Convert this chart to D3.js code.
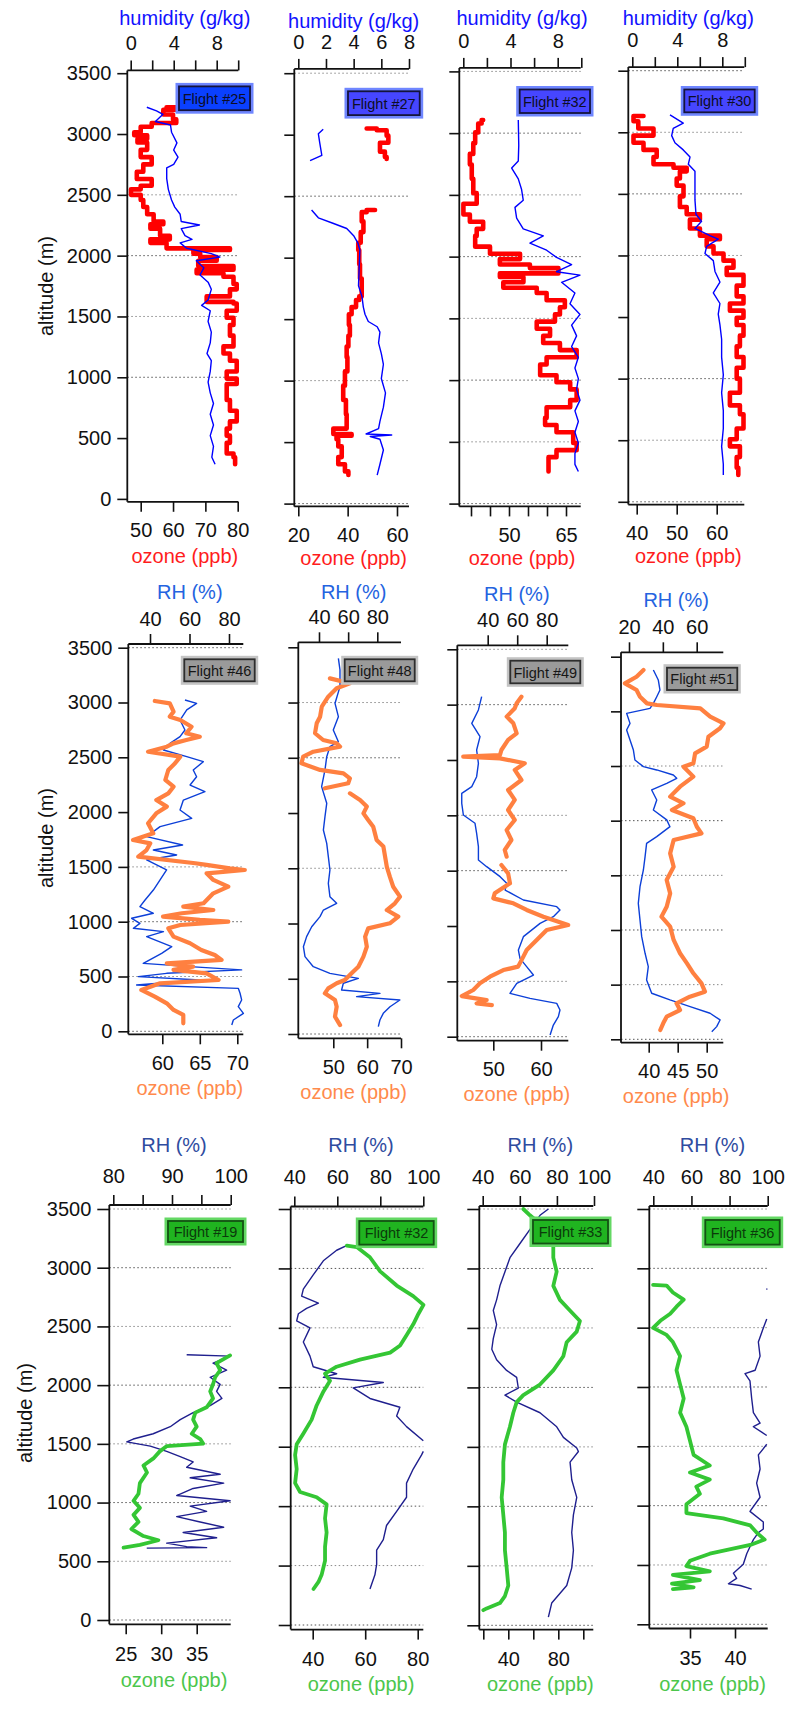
<!DOCTYPE html>
<html><head><meta charset="utf-8">
<script src="https://cdn.jsdelivr.net/npm/d3@7"></script>
<style>body{margin:0;background:#fff}svg{display:block}</style>
</head><body>
<script>
// ---------------- DATA: [altitude (m), value] ----------------
const altitudeTicks = [0,500,1000,1500,2000,2500,3000,3500];

const f25Ozone = [[3220,58],[3200,61],[3160,57],[3120,60],[3090,61],[3060,53.4],[3015,50],[2990,48],[2960,52],[2930,49],[2870,52],[2810,50],[2750,53.4],[2690,50.8],[2630,48.8],[2575,53.4],[2545,50],[2500,47],[2457,50],[2400,50.8],[2340,52],[2280,54],[2258,57],[2222,53],[2164,56],[2134,59],[2105,53],[2060,58],[2046,77.6],[2017,66.3],[1988,68.4],[1958,73.5],[1914,67.8],[1885,78.7],[1855,67.3],[1826,75.6],[1767,78.7],[1723,79.7],[1665,77.6],[1620,70.4],[1606,78.7],[1547,79.7],[1489,76.6],[1430,78.7],[1342,77.6],[1254,78.7],[1195,75.6],[1136,77.6],[1048,79.7],[989,76.6],[945,79.7],[901,76.6],[813,76.6],[725,77.6],[637,79.7],[578,77.6],[520,76.6],[461,77.6],[373,76.6],[343,78.7],[285,79.2]];
const f25Humidity = [[3220,1.5],[3191,2.4],[3162,3.0],[3103,2.3],[3074,3.7],[3015,3.8],[2927,4.3],[2868,4.0],[2810,4.4],[2751,4.0],[2722,3.35],[2634,3.35],[2545,3.5],[2457,3.8],[2399,4.1],[2340,4.6],[2281,4.7],[2252,6.4],[2222,4.7],[2164,5.05],[2134,5.7],[2105,4.6],[2061,5.2],[2017,7.5],[1988,8.3],[1958,6.1],[1900,6.8],[1841,6.45],[1782,7.2],[1723,7.5],[1635,7.2],[1591,6.6],[1547,7.4],[1459,7.2],[1371,7.5],[1283,7.4],[1195,7.1],[1136,7.5],[1048,7.4],[960,7.2],[872,7.4],[784,7.7],[696,7.4],[608,7.7],[520,7.4],[432,7.7],[343,7.55],[285,7.85]];

const f27Ozone = [[3050,47.7],[3036,51.8],[2992,55.8],[2934,56.5],[2905,53.1],[2862,53.1],[2818,55.1],[2803,55.8],[2600,null],[2388,51.1],[2370,47.7],[2295,45.7],[2208,46.4],[2121,45.3],[2062,44.3],[1946,44.7],[1830,45],[1743,45.7],[1685,45.7],[1656,44.7],[1598,43.4],[1540,41.6],[1452,40.5],[1365,40.9],[1278,40.3],[1191,39.6],[1075,39.9],[959,38.9],[842,38.2],[726,39.3],[610,39.6],[566,34.2],[552,41.6],[523,35.5],[465,36.2],[378,37.6],[320,36.2],[262,38.9],[232,40.3]];
const f27Humidity = [[3044,1.8],[3007,1.45],[2934,1.55],[2832,1.7],[2789,0.85],[2600,null],[2388,0.96],[2324,1.45],[2280,2.5],[2237,3.5],[2179,4.0],[2121,4.3],[2062,4.45],[1917,4.4],[1772,4.35],[1685,4.6],[1598,4.7],[1540,4.82],[1481,5.06],[1438,5.7],[1394,5.9],[1307,5.8],[1220,6.0],[1133,6.15],[1017,6.0],[900,6.3],[784,6.15],[668,5.9],[610,5.8],[566,4.9],[558,6.75],[546,5.2],[523,5.9],[436,6.15],[320,5.9],[232,5.7]];

const f32Ozone = [[3107,43.2],[3078,42.8],[3006,41.9],[2919,41.1],[2832,40.6],[2746,39.7],[2630,40.2],[2514,40.6],[2428,41.5],[2341,38.0],[2283,39.7],[2225,43.2],[2168,41.5],[2081,41.1],[2023,45.0],[1980,52.9],[1936,47.6],[1907,55.5],[1864,63.0],[1835,47.6],[1792,53.8],[1748,48.5],[1705,57.3],[1647,59.9],[1590,64.7],[1532,63.4],[1474,62.1],[1416,57.3],[1358,60.8],[1301,59.0],[1243,63.4],[1185,67.8],[1127,59.9],[1040,58.2],[983,62.5],[925,66.1],[838,67.8],[780,66.1],[694,59.9],[636,59.5],[578,62.5],[491,66.9],[433,67.8],[376,62.5],[318,60.4],[260,60.4]];
const f32Humidity = [[3107,4.66],[2900,4.7],[2774,4.66],[2717,4.1],[2630,4.66],[2543,4.94],[2457,5.08],[2399,4.38],[2312,4.52],[2225,5.08],[2168,6.78],[2110,5.65],[2052,7.06],[1994,7.9],[1936,9.18],[1878,7.9],[1850,9.89],[1792,8.33],[1705,9.46],[1618,9.04],[1532,9.89],[1445,9.18],[1358,9.6],[1272,9.18],[1185,9.75],[1098,9.46],[1012,9.75],[925,9.6],[838,9.89],[751,9.46],[665,9.75],[578,9.46],[491,9.75],[405,9.46],[318,9.46],[260,9.75]];

const f30Ozone = [[3132,41.7],[3089,39.2],[3031,40.4],[2973,44.2],[2915,39.2],[2857,41.7],[2799,45],[2741,44.2],[2712,49.2],[2683,52.5],[2625,50.8],[2567,50],[2480,51.7],[2393,50.8],[2335,52.5],[2291,55.8],[2219,53.3],[2161,55.8],[2132,60.8],[2074,57.5],[2016,59.2],[1958,61.7],[1900,64.2],[1842,62.5],[1755,66.7],[1668,65],[1610,66.7],[1552,63.3],[1494,66.7],[1436,65],[1349,66.7],[1262,65.8],[1175,65],[1088,66.7],[1000,65],[943,65.8],[885,65.8],[783,63.3],[711,65.8],[595,66.7],[508,65],[450,63.3],[363,65.8],[276,65],[218,65.4]];
const f30Humidity = [[3141,3.35],[3074,4.53],[3031,3.64],[2973,3.5],[2915,3.79],[2857,4.53],[2799,5.13],[2741,4.98],[2683,5.57],[2567,5.57],[2451,5.57],[2335,5.66],[2277,6.16],[2219,5.57],[2161,6.9],[2132,7.64],[2074,6.61],[2016,6.46],[1958,7.2],[1870,7.35],[1784,7.79],[1697,7.2],[1610,7.79],[1523,7.64],[1436,7.79],[1320,7.94],[1175,7.94],[1030,8.09],[885,7.94],[740,8.09],[595,8.09],[450,7.94],[305,8.09],[218,8.09]];

const f46Ozone = [[3014,59.0],[2992,61.0],[2916,61.5],[2871,61.0],[2840,62.4],[2779,63.9],[2719,63.2],[2688,65.0],[2658,63.2],[2627,61.5],[2597,60.6],[2551,58.1],[2506,62.4],[2445,61.7],[2384,60.8],[2293,60.4],[2232,61.5],[2171,60.8],[2110,59.2],[2050,60.6],[1989,59.2],[1898,58.1],[1806,58.8],[1745,56.1],[1715,58.4],[1654,57.9],[1593,56.8],[1533,64.4],[1518,65.9],[1487,69.0],[1472,71.0],[1441,65.9],[1381,66.8],[1320,68.8],[1259,66.8],[1168,65.5],[1137,62.8],[1107,66.8],[1077,62.6],[1046,60.1],[1016,65.0],[1000,68.8],[970,62.4],[940,60.8],[864,61.5],[803,63.7],[742,65.2],[696,67.0],[651,67.9],[620,60.6],[590,64.1],[560,61.5],[529,65.9],[468,67.5],[438,59.7],[377,57.2],[316,59.0],[255,60.6],[195,61.5],[149,62.8],[73,62.8]];
const f46RH = [[3023,57.7],[2992,63.6],[2932,58.6],[2840,55.2],[2749,57.7],[2688,55.2],[2627,50.1],[2567,46.8],[2506,58.6],[2460,67.0],[2384,61.9],[2323,63.6],[2247,60.3],[2186,67.8],[2110,56.9],[2019,55.2],[1943,61.1],[1867,45.1],[1776,38.3],[1700,56.5],[1654,41.7],[1609,53.5],[1563,38.3],[1472,48.4],[1381,45.1],[1289,41.7],[1198,37.5],[1137,34.9],[1077,41.7],[1031,30.7],[985,34.9],[940,31.6],[909,46.8],[864,38.3],[772,51.0],[711,45.9],[620,36.6],[590,60.3],[560,86.4],[529,48.4],[499,34.1],[468,65.3],[423,33.2],[392,84.7],[347,85.6],[286,86.4],[225,84.7],[164,87.3],[103,82.2],[58,81.4]];

const f48Ozone = [[3219,49.0],[3174,54.9],[3129,51.0],[3053,48.5],[2963,46.6],[2872,46.1],[2812,45.1],[2722,44.6],[2661,47.0],[2631,51.0],[2601,52.0],[2555,44.1],[2510,41.1],[2450,40.6],[2390,46.1],[2359,53.0],[2314,54.9],[2269,54.4],[2224,47.5],[2200,null],[2178,54.9],[2118,57.9],[2058,59.9],[1997,58.9],[1937,60.3],[1876,61.8],[1816,62.3],[1756,62.8],[1696,64.8],[1605,65.3],[1515,65.8],[1424,66.7],[1333,67.7],[1243,69.7],[1183,68.2],[1122,65.8],[1062,69.2],[1002,66.7],[956,60.3],[881,59.4],[790,59.9],[700,58.9],[609,57.4],[549,55.4],[489,53.4],[459,51.0],[413,48.5],[368,47.5],[308,50.5],[247,51.0],[157,50.5],[81,52.0]];
const f48RH = [[3400,53.3],[3295,54.4],[3144,54.4],[2993,51.0],[2872,53.3],[2752,49.8],[2646,53.3],[2601,47.5],[2510,45.3],[2390,44.1],[2239,41.8],[2088,45.3],[1967,44.1],[1846,43.0],[1726,45.3],[1605,46.4],[1484,47.5],[1364,46.4],[1243,47.5],[1183,52.1],[1122,43.0],[1062,40.7],[971,35.0],[881,31.5],[790,29.3],[700,30.4],[609,36.1],[549,47.5],[504,67.0],[459,56.7],[398,55.5],[368,81.8],[338,65.8],[308,95.5],[247,88.7],[187,84.1],[127,81.8],[66,80.7]];

const f49Ozone = [[3072,55.9],[3012,54.9],[2967,54.5],[2892,52.8],[2831,54.2],[2741,54.9],[2681,53.1],[2590,51.7],[2545,51.4],[2530,43.7],[2515,51.4],[2470,56.6],[2410,54.5],[2319,55.9],[2229,53.1],[2139,54.5],[2048,53.1],[1958,54.5],[1867,52.8],[1777,53.8],[1687,52.4],[1626,52.8],[1590,null],[1551,51.7],[1476,53.1],[1386,53.5],[1295,50.3],[1250,50.0],[1205,54.2],[1145,57.0],[1084,60.5],[1009,65.7],[964,61.2],[873,59.1],[783,57.0],[723,56.3],[633,55.2],[602,52.1],[542,49.3],[482,47.2],[422,45.8],[367,43.4],[331,48.6],[301,46.5],[286,49.7]];
const f49RH = [[3072,35.9],[2952,33.7],[2831,29.2],[2711,34.8],[2590,32.5],[2470,33.7],[2349,32.5],[2259,29.2],[2199,22.4],[2108,22.4],[2003,23.5],[1928,31.4],[1837,32.5],[1717,33.7],[1596,33.7],[1536,39.3],[1446,48.4],[1386,52.9],[1325,51.8],[1235,64.2],[1175,86.8],[1145,89.0],[1084,84.5],[1024,75.5],[904,64.2],[783,60.8],[708,61.9],[633,66.4],[557,71.0],[482,59.7],[392,55.1],[346,68.7],[301,86.8],[241,89.0],[181,87.9],[105,84.5],[15,82.3]];

const f51Ozone = [[3378,39.1],[3317,37.9],[3256,35.9],[3195,37.9],[3134,38.5],[3073,39.7],[3058,41.4],[3027,48.9],[2951,50.6],[2890,52.9],[2845,52.3],[2768,50.3],[2677,50.0],[2616,48.0],[2525,47.7],[2494,46.0],[2403,47.7],[2311,45.4],[2220,43.7],[2159,46.0],[2098,44.0],[2022,47.7],[1945,48.3],[1884,49.1],[1823,44.3],[1701,43.7],[1579,44.3],[1457,43.1],[1335,43.7],[1213,43.1],[1122,42.2],[1031,43.7],[909,44.3],[787,45.4],[695,46.6],[604,47.7],[512,49.1],[436,49.7],[390,47.1],[329,44.8],[268,45.4],[207,43.1],[146,42.5],[85,42.0]];
const f51RH = [[3378,34.4],[3287,37.3],[3195,38.3],[3134,36.4],[3073,34.4],[3027,32.4],[2982,18.6],[2890,20.6],[2829,18.6],[2738,20.6],[2646,22.6],[2555,23.5],[2494,28.5],[2464,36.4],[2418,46.2],[2388,48.2],[2342,42.3],[2281,33.4],[2189,36.4],[2098,34.4],[2007,42.3],[1945,44.2],[1854,36.4],[1793,30.4],[1671,29.5],[1549,28.5],[1396,26.5],[1244,25.5],[1091,26.5],[939,27.5],[787,29.5],[665,31.4],[543,30.4],[421,33.4],[360,44.2],[299,56.1],[238,67.9],[177,73.8],[116,71.8],[70,68.9]];

const f19Ozone = [[2253,39.7],[2187,37.8],[2127,38.3],[2067,37.6],[2007,37.3],[1947,36.9],[1887,37.3],[1811,36.4],[1766,34.8],[1706,34.5],[1646,35.0],[1586,34.3],[1541,35.5],[1502,35.9],[1481,30.8],[1436,29.8],[1376,28.9],[1316,27.5],[1256,28.0],[1166,27.0],[1075,26.8],[1015,26.1],[955,27.0],[895,26.1],[835,26.8],[775,25.8],[715,27.5],[679,29.6],[640,27.0],[616,24.7]];
const f19RH = [[2259,92.5],[2247,99.9],[2187,97.0],[2127,99.3],[2067,96.5],[2007,98.2],[1947,97.6],[1887,98.5],[1826,96.5],[1766,93.6],[1706,91.4],[1646,89.7],[1586,86.8],[1541,83.4],[1517,82.3],[1481,86.3],[1436,89.1],[1391,91.4],[1346,93.6],[1301,92.5],[1241,98.2],[1211,93.1],[1166,98.8],[1120,93.6],[1060,90.8],[1015,99.9],[970,93.1],[925,95.9],[880,90.8],[835,94.8],[790,98.8],[745,91.9],[700,97.6],[655,89.1],[625,92.5],[616,95.9],[612,85.7]];

const f32bOzone = [[3192,53.0],[3180,56.8],[3094,61.8],[2975,65.7],[2856,72.0],[2767,78.3],[2693,82.2],[2619,80.3],[2530,78.3],[2440,75.8],[2351,73.3],[2292,69.5],[2233,58.0],[2173,49.1],[2114,44.7],[2054,46.6],[1965,44.1],[1847,41.5],[1728,39.6],[1609,36.4],[1520,33.9],[1431,33.3],[1312,33.9],[1194,33.3],[1119,35.2],[1075,41.5],[1015,45.3],[897,44.7],[778,45.3],[659,44.7],[540,44.7],[422,43.4],[362,42.2],[303,40.3]];
const f32bRH = [[3192,64.3],[3153,59.7],[3064,53.5],[2945,48.8],[2826,44.2],[2767,43.4],[2708,51.2],[2664,45.7],[2619,41.9],[2559,41.1],[2500,47.3],[2381,44.2],[2262,47.3],[2173,48.8],[2114,59.7],[2084,53.5],[2040,81.4],[1995,67.4],[1906,75.2],[1832,89.1],[1758,87.6],[1669,92.2],[1550,100],[1500,null],[1461,100],[1431,99.2],[1312,95.3],[1194,92.2],[1075,92.2],[956,87.6],[837,82.9],[718,81.4],[629,78.3],[511,78.3],[422,77.5],[303,75.2]];

const f33Ozone = [[3500,52],[3447,57.3],[3328,70.7],[3210,76],[3091,76],[2973,78.7],[2854,76],[2736,81.3],[2647,89.3],[2558,97.3],[2469,94.7],[2380,86.7],[2262,84],[2143,76],[2024,65.3],[1935,52],[1876,46.7],[1787,44],[1669,41.3],[1521,37.3],[1372,36],[1224,36],[1076,34.7],[928,36],[780,37.3],[631,37.3],[483,38.7],[335,40],[246,37.3],[187,33.3],[142,22.7],[127,20]];
const f33RH = [[3500,75.4],[3447,70.9],[3328,65.5],[3210,60.1],[3091,54.7],[2973,52.0],[2854,49.3],[2736,47.5],[2647,45.7],[2528,47.5],[2410,45.7],[2321,44.9],[2232,47.5],[2143,52.9],[2084,58.3],[1995,59.2],[1935,52.0],[1876,58.3],[1787,70.9],[1669,79.9],[1580,83.5],[1491,90.7],[1461,91.6],[1372,87.1],[1224,88.0],[1076,90.7],[928,88.9],[780,88.0],[631,88.9],[483,88.0],[335,85.3],[187,77.2],[68,75.4]];

const f36Ozone = [[2861,30.9],[2855,32.4],[2796,33.1],[2736,34.3],[2677,33.5],[2617,32.8],[2558,31.7],[2498,30.9],[2439,32.4],[2379,33.1],[2260,33.9],[2141,33.5],[2022,33.9],[1903,34.3],[1784,33.9],[1665,34.6],[1547,35],[1428,35.4],[1338,37.2],[1279,35],[1219,37.2],[1160,35.7],[1100,36.1],[1011,34.6],[937,34.6],[892,38.7],[833,41.7],[773,42.4],[714,43.3],[669,41.7],[595,37.2],[535,35],[491,34.6],[446,37.2],[416,33.1],[372,36.1],[342,33.0],[312,35.4],[297,33.1]];
const f36RH = [[2830,99.5],[2820,99.6],[2700,null],[2573,99.5],[2498,97.7],[2379,95.1],[2260,96],[2141,93.4],[2112,88.1],[2052,90.7],[1903,91.6],[1784,92.5],[1695,96],[1665,92.5],[1591,99.5],[1550,null],[1517,99.5],[1428,95.1],[1309,96],[1190,94.2],[1071,96],[952,90.7],[862,97.7],[803,97.7],[773,95.1],[714,92.5],[654,90.7],[595,89],[506,87.2],[431,82],[387,83.7],[342,79.4],[327,85.5],[297,91.6]];

// ---------------- LAYOUT ----------------
const rows = [
  {top:"humidity (g/kg)", topColor:"#1212ff", ozTitleColor:"#ff1c1c", ozColor:"#ff0000", hColor:"#0000ff",
   ozW:4.6, hW:1.4, step:true, stroke:"#14143c", outer:"#6f86ff", text:"#0d0d26", topPad:10, botPad:11.5, yTick:10, yPad:6,
   altX:46, altY:286},
  {top:"RH (%)", topColor:"#2463e0", ozTitleColor:"#ff8a4c", ozColor:"#ff8040", hColor:"#0c3fd8",
   ozW:4.2, hW:1.4, step:false, stroke:"#2e2e2e", outer:"#c4c4c4", text:"#161616", topPad:8.5, botPad:11.5, yTick:10, yPad:6,
   altX:46, altY:838},
  {top:"RH (%)", topColor:"#2f4c9f", ozTitleColor:"#4cc64c", ozColor:"#34c634", hColor:"#1f1f8e",
   ozW:3.8, hW:1.4, step:false, stroke:"#145214", outer:"#64d864", text:"#0b3a0b", topPad:12.5, botPad:12.5, yTick:12, yPad:6,
   altX:25, altY:1413}
];

const panels = [
  {row:0, label:"Flight #25", fill:"#0a40ff", oz:f25Ozone, h:f25Humidity, L:127.3,R:238.3,T:70.4,B:501.8,y0:498.9,y35:73.2,
   tD:[0,8],tR:[130.7,216.7],tT:[0,2,4,6,8,10],tL:[0,4,8], bD:[50,80],bR:[140.7,237.7],bT:[50,60,70,80],bL:[50,60,70,80],
   box:[177,84.4,252,112.2], grid:[1000,1500,2000,2500], tY:17.5, oY:556, yLab:true},
  {row:0, label:"Flight #27", fill:"#4646ff", oz:f27Ozone, h:f27Humidity, L:294.3,R:409,T:68.9,B:506.4,y0:503.6,y35:73.2,
   tD:[0,8],tR:[298.3,409],tT:[0,2,4,6,8],tL:[0,2,4,6,8], bD:[20,60],bR:[298.3,397],bT:[20,40,60],bL:[20,40,60],
   box:[346,89.3,421.7,117.1], grid:[0,1000,2500,3500], tY:21, oY:558},
  {row:0, label:"Flight #32", fill:"#4646ff", oz:f32Ozone, h:f32Humidity, L:459.3,R:580.7,T:67.9,B:506.4,y0:503.6,y35:71.4,
   tD:[0,8],tR:[463.3,557.7],tT:[0,2,4,6,8,10],tL:[0,4,8], bD:[50,65],bR:[509,566],bT:[40,45,50,55,60,65],bL:[50,65],
   box:[517.7,87.5,592,115], grid:altitudeTicks, tY:18, oY:558},
  {row:0, label:"Flight #30", fill:"#4646ff", oz:f30Ozone, h:f30Humidity, L:628.3,R:744.3,T:67.1,B:504.6,y0:501.8,y35:70.7,
   tD:[0,8],tR:[632.3,722.3],tT:[0,2,4,6,8,10],tL:[0,4,8], bD:[40,60],bR:[636.7,716.7],bT:[40,50,60],bL:[40,50,60],
   box:[682.3,87.5,756.7,114.3], grid:[0,500,1000,2000,2500,3000,3500], tY:18, oY:556},

  {row:1, label:"Flight #46", fill:"#9a9a9a", oz:f46Ozone, h:f46RH, L:128.3,R:243.3,T:644,B:1034.3,y0:1031.3,y35:647.7,
   tD:[40,80],tR:[150,229],tT:[40,60,80],tL:[40,60,80], bD:[60,70],bR:[162.3,237.3],bT:[60,65,70],bL:[60,65,70],
   box:[182.3,657.3,256.7,683.3], grid:[0,500,1000,1500,3500], tY:592, oY:1088, yLab:true},
  {row:1, label:"Flight #48", fill:"#9a9a9a", oz:f48Ozone, h:f48RH, L:298.3,R:401,T:642.3,B:1038.3,y0:1034,y35:647.3,
   tD:[40,80],tR:[319,377.3],tT:[40,60,80],tL:[40,60,80], bD:[50,70],bR:[333.3,401],bT:[50,60,70],bL:[50,60,70],
   box:[342.7,657.3,416.7,683.3], grid:[0,1500,2500,3000], tY:592, oY:1092},
  {row:1, label:"Flight #49", fill:"#9a9a9a", oz:f49Ozone, h:f49RH, L:457.3,R:568.3,T:645.3,B:1040.7,y0:1036.7,y35:649.3,
   tD:[40,80],tR:[487.7,546.7],tT:[40,60,80],tL:[40,60,80], bD:[50,60],bR:[493.3,541],bT:[50,60],bL:[50,60],
   box:[508.3,658.7,582.3,685.3], grid:[0,500,1500,2000,3000,3500], tY:593.5, oY:1094},
  {row:1, label:"Flight #51", fill:"#9a9a9a", oz:f51Ozone, h:f51RH, L:621,R:723.3,T:652.3,B:1042.7,y0:1039.3,y35:656.7,
   tD:[20,60],tR:[629,696.7],tT:[20,40,60],tL:[20,40,60], bD:[40,50],bR:[648.7,706.7],bT:[40,45,50],bL:[40,45,50],
   box:[665,665.7,739.3,692], grid:[0,500,1000,1500,2000,2500], tY:600, oY:1096},

  {row:2, label:"Flight #19", fill:"#20b420", oz:f19Ozone, h:f19RH, L:109.3,R:230.7,T:1205,B:1624.3,y0:1620,y35:1209,
   tD:[80,100],tR:[113.3,230.7],tT:[80,85,90,95,100],tL:[80,90,100], bD:[25,35],bR:[125.7,196.7],bT:[25,30,35],bL:[25,30,35],
   box:[166,1219,245,1244], grid:altitudeTicks, tY:1145, oY:1680, yLab:true},
  {row:2, label:"Flight #32", fill:"#20b420", oz:f32bOzone, h:f32bRH, L:290.7,R:423.3,T:1206.5,B:1629.6,y0:1625,y35:1209,
   tD:[40,100],tR:[294.3,423.3],tT:[40,60,80,100],tL:[40,60,80,100], bD:[40,80],bR:[312.7,417.7],bT:[40,60,80],bL:[40,60,80],
   box:[357.3,1219,435.7,1246.6], grid:altitudeTicks, tY:1145, oY:1684},
  {row:2, label:"Flight #33", fill:"#20b420", oz:f33Ozone, h:f33RH, L:479.3,R:593.3,T:1206,B:1629.6,y0:1625.3,y35:1209,
   tD:[40,100],tR:[482.7,594],tT:[40,60,80,100],tL:[40,60,80,100], bD:[40,80],bR:[508.3,558.3],bT:[20,40,60,80,100],bL:[40,80],
   box:[531,1218,610,1245.5], grid:altitudeTicks, tY:1145, oY:1684},
  {row:2, label:"Flight #36", fill:"#20b420", oz:f36Ozone, h:f36RH, L:649.3,R:767.7,T:1206,B:1628.5,y0:1624.3,y35:1209,
   tD:[40,100],tR:[653.3,767.7],tT:[40,60,80,100],tL:[40,60,80,100], bD:[35,40],bR:[690,735],bT:[35,40],bL:[35,40],
   box:[703.3,1218,781.7,1246.6], grid:altitudeTicks, tY:1145, oY:1684}
];

// ---------------- DRAW ----------------
const FONT = "Arial, 'Liberation Sans', sans-serif";
const svg = d3.select("body").append("svg").attr("width",787).attr("height",1733).style("font-family", FONT);
const FS = 20;

panels.forEach(p => {
  const st = rows[p.row];
  const g = svg.append("g");
  const y = d3.scaleLinear().domain([0,3500]).range([p.y0, p.y35]);
  const xT = d3.scaleLinear().domain(p.tD).range(p.tR);
  const xB = d3.scaleLinear().domain(p.bD).range(p.bR);

  // grid
  g.append("g").selectAll("line").data(p.grid).join("line")
    .attr("x1", p.L).attr("x2", p.R).attr("y1", d => y(d)).attr("y2", d => y(d))
    .attr("stroke", (d,i) => i % 2 ? "#8a8a8a" : "#555").attr("stroke-width", 1)
    .attr("stroke-dasharray", "1.5,2.5");

  const lineH = d3.line().defined(d => d[1] != null).x(d => xT(d[1])).y(d => y(d[0]));
  const lineO = d3.line().defined(d => d[1] != null).x(d => xB(d[1])).y(d => y(d[0]))
    .curve(st.step ? d3.curveStepAfter : d3.curveLinear);

  const drawH = () => g.append("path").attr("d", lineH(p.h)).attr("fill","none")
    .attr("stroke", st.hColor).attr("stroke-width", st.hW).attr("stroke-linejoin","round");
  const drawO = () => g.append("path").attr("d", lineO(p.oz)).attr("fill","none")
    .attr("stroke", st.ozColor).attr("stroke-width", st.ozW).attr("stroke-linejoin","round").attr("stroke-linecap","round");
  if (p.row === 0) { drawO(); drawH(); } else { drawH(); drawO(); }

  // axes
  const fmtTop = d => p.tL.includes(d) ? d : "";
  const fmtBot = d => p.bL.includes(d) ? d : "";
  const aT = g.append("g").attr("transform", `translate(0,${p.T})`)
    .call(d3.axisTop(xT).tickValues(p.tT).tickFormat(fmtTop).tickSize(10).tickSizeOuter(0).tickPadding(st.topPad));
  const aB = g.append("g").attr("transform", `translate(0,${p.B})`)
    .call(d3.axisBottom(xB).tickValues(p.bT).tickFormat(fmtBot).tickSize(10).tickSizeOuter(0).tickPadding(st.botPad));
  const aL = g.append("g").attr("transform", `translate(${p.L},0)`)
    .call(d3.axisLeft(y).tickValues(altitudeTicks).tickFormat(p.yLab ? d3.format("d") : () => "")
      .tickSize(st.yTick).tickSizeOuter(0).tickPadding(st.yPad));
  [aT, aB, aL].forEach(a => {
    a.select(".domain").remove();
    a.selectAll("line").attr("stroke","#111").attr("stroke-width",1.6);
    a.selectAll("text").attr("fill","#111").style("font-size", FS + "px").style("font-family", FONT);
  });

  // frame lines
  const fr = g.append("g").attr("stroke","#111").attr("stroke-width",1.8);
  fr.append("line").attr("x1",p.L).attr("x2",p.L).attr("y1",p.T).attr("y2",p.B);
  fr.append("line").attr("x1",p.L).attr("x2",p.R).attr("y1",p.T).attr("y2",p.T);
  fr.append("line").attr("x1",p.L).attr("x2",p.R).attr("y1",p.B).attr("y2",p.B);

  // titles
  const cx = (p.L + p.R) / 2 + (p.row === 0 ? 2 : 4);
  g.append("text").attr("x", cx).attr("y", p.tY).attr("text-anchor","middle").attr("dominant-baseline","central")
    .attr("fill", st.topColor).style("font-size", FS + "px").text(st.top);
  g.append("text").attr("x", cx).attr("y", p.oY).attr("text-anchor","middle").attr("dominant-baseline","central")
    .attr("fill", st.ozTitleColor).style("font-size", FS + "px").text("ozone (ppb)");

  // flight label box
  const [bx1, by1, bx2, by2] = p.box;
  g.append("rect").attr("x", bx1).attr("y", by1).attr("width", bx2 - bx1).attr("height", by2 - by1)
    .attr("fill", p.fill).attr("stroke", st.outer).attr("stroke-width", 3);
  g.append("rect").attr("x", bx1 + 2).attr("y", by1 + 2).attr("width", bx2 - bx1 - 4).attr("height", by2 - by1 - 4)
    .attr("fill", "none").attr("stroke", st.stroke).attr("stroke-width", 1.8);
  g.append("text").attr("x", (bx1 + bx2) / 2).attr("y", (by1 + by2) / 2 + 0.5)
    .attr("text-anchor","middle").attr("dominant-baseline","central")
    .attr("fill", st.text).style("font-size","14.5px").text(p.label);

  if (p.yLab) {
    svg.append("text").attr("transform", `translate(${st.altX},${st.altY}) rotate(-90)`)
      .attr("text-anchor","middle").attr("dominant-baseline","central")
      .attr("fill","#111").style("font-size", FS + "px").text("altitude (m)");
  }
});
</script>
</body></html>
